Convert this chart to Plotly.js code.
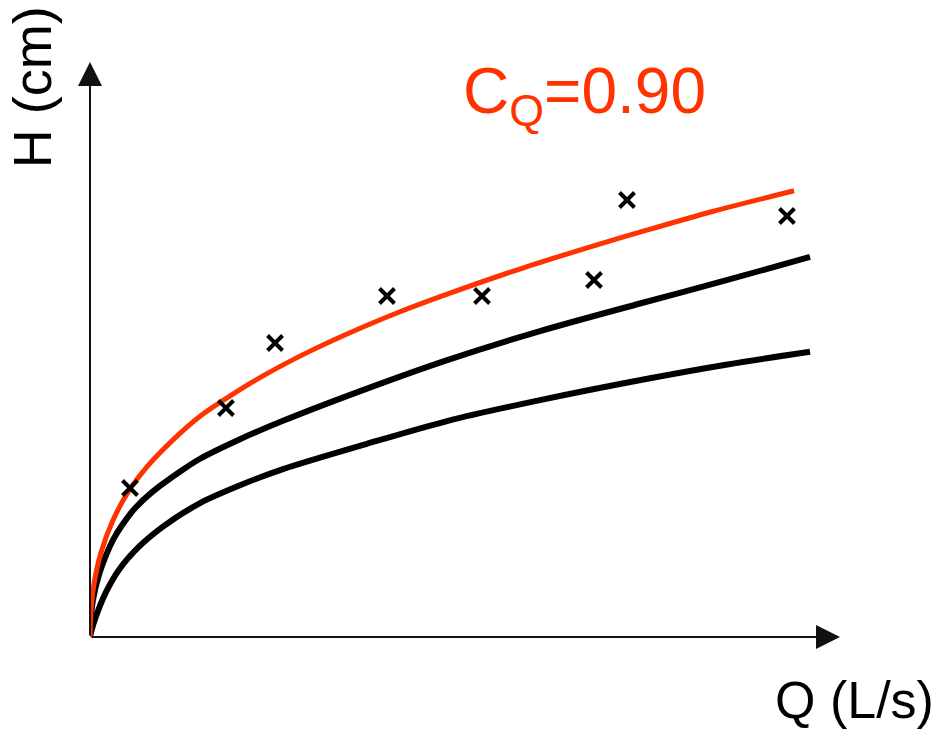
<!DOCTYPE html>
<html>
<head>
<meta charset="utf-8">
<script src="https://cdn.plot.ly/plotly-3.0.1.min.js"></script>
<style>html,body{margin:0;padding:0;background:#fff;}#chart{width:950px;height:729px;}</style>
</head>
<body>
<div id="chart"></div>
<script>
// Curve with C_Q = 0.90 (red)
var redQ = [0, 0.013, 0.057, 0.147, 0.303, 0.507, 0.773, 1.1, 1.467, 1.9, 2.36, 2.9, 3.427, 4.1, 4.8, 5.8, 6.76, 7.333, 8.3, 9.387];
var redH = [0, 0.45, 0.95, 1.47, 2.02, 2.52, 2.98, 3.42, 3.84, 4.22, 4.58, 4.95, 5.27, 5.64, 5.98, 6.43, 6.82, 7.04, 7.40, 7.76];
// Upper black curve
var upperQ = [0, 0.01, 0.04, 0.124, 0.213, 0.32, 0.436, 0.6, 0.827, 1.227, 1.467, 2.0, 2.573, 3.693, 4.773, 6.0, 7.333, 8.5, 9.6];
var upperH = [0, 0.3, 0.65, 1.1, 1.42, 1.72, 1.96, 2.24, 2.52, 2.90, 3.10, 3.44, 3.76, 4.32, 4.82, 5.32, 5.80, 6.21, 6.61];
// Lower black curve
var lowerQ = [0, 0.013, 0.08, 0.213, 0.387, 0.653, 0.973, 1.467, 2.0, 2.573, 3.693, 4.773, 6.0, 7.467, 8.5, 9.6];
var lowerH = [0, 0.08, 0.36, 0.78, 1.17, 1.57, 1.92, 2.33, 2.64, 2.92, 3.36, 3.76, 4.12, 4.50, 4.74, 4.96];
// Measured points
var measQ = [0.533, 1.813, 2.467, 3.96, 5.227, 6.72, 7.16, 9.293];
var measH = [2.591, 3.983, 5.113, 5.93, 5.93, 6.209, 7.6, 7.322];

var labelText = 'C<sub>Q</sub>=0.90';
var xTitle = 'Q (L/s)';
var yTitle = 'H (cm)';

var FONT = 'Arial, "Liberation Sans", Helvetica, sans-serif';
var RED = '#ff3300';

var traces = [
  {x: lowerQ, y: lowerH, mode: 'lines', line: {color: '#000', width: 6, shape: 'spline', smoothing: 0.8}, cliponaxis: false, hoverinfo: 'skip'},
  {x: upperQ, y: upperH, mode: 'lines', line: {color: '#000', width: 6, shape: 'spline', smoothing: 0.8}, cliponaxis: false, hoverinfo: 'skip'},
  {x: redQ, y: redH, mode: 'lines', line: {color: RED, width: 5, shape: 'spline', smoothing: 0.8}, cliponaxis: false, hoverinfo: 'skip'},
  {x: measQ, y: measH, mode: 'markers', marker: {symbol: 'x-thin', size: 15, color: '#000', line: {color: '#000', width: 4}}, cliponaxis: false, hoverinfo: 'skip'}
];

var axisStyle = {showgrid: false, zeroline: false, showline: false, showticklabels: false, ticks: '', fixedrange: true};

var layout = {
  width: 950, height: 729,
  margin: {l: 90, r: 110, t: 62, b: 92},
  paper_bgcolor: '#fff', plot_bgcolor: '#fff',
  showlegend: false,
  xaxis: Object.assign({range: [0, 10]}, axisStyle),
  yaxis: Object.assign({range: [0, 10]}, axisStyle),
  annotations: [
    {x: 10, y: 0, ax: 0, ay: 0, xref: 'x', yref: 'y', axref: 'x', ayref: 'y', text: '', showarrow: true,
     arrowhead: 2, arrowsize: 2.4, arrowwidth: 2, arrowcolor: '#111', standoff: 0, startstandoff: 0},
    {x: 0, y: 10, ax: 0, ay: 0, xref: 'x', yref: 'y', axref: 'x', ayref: 'y', text: '', showarrow: true,
     arrowhead: 2, arrowsize: 2.4, arrowwidth: 2, arrowcolor: '#111', standoff: 0, startstandoff: 0},
    {x: 6.59, y: 9.43, xref: 'x', yref: 'y', text: labelText, showarrow: false, xanchor: 'center', yanchor: 'middle',
     font: {family: FONT, size: 64, color: RED}},
    {x: -0.077, y: 0.9565, xref: 'paper', yref: 'paper', text: yTitle, showarrow: false, textangle: -90, xanchor: 'center', yanchor: 'middle',
     font: {family: FONT, size: 54, color: '#000'}},
    {x: 1.0187, y: -0.1096, xref: 'paper', yref: 'paper', text: xTitle, showarrow: false, xanchor: 'center', yanchor: 'middle',
     font: {family: FONT, size: 52, color: '#000'}}
  ]
};

Plotly.newPlot('chart', traces, layout, {displayModeBar: false, staticPlot: true});
</script>
</body>
</html>
